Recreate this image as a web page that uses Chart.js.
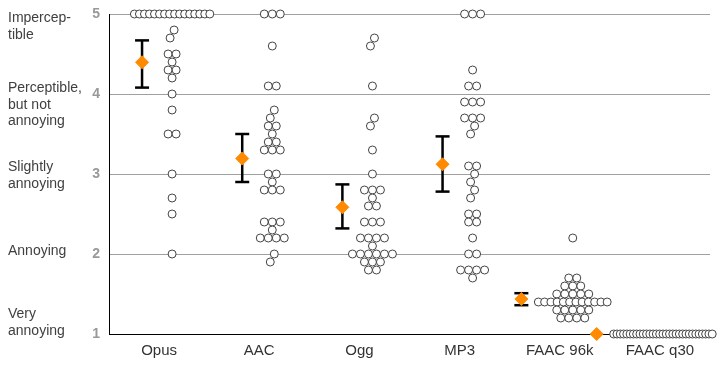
<!DOCTYPE html>
<html><head><meta charset="utf-8">
<script src="https://cdn.jsdelivr.net/npm/chart.js@4.4.1/dist/chart.umd.min.js"></script>
<style>html,body{margin:0;padding:0;background:#fff;}canvas{display:block}</style>
</head><body>
<canvas id="c" width="720" height="370"></canvas>
<script>
// ---------- data ----------
const categories = ["Opus", "AAC", "Ogg", "MP3", "FAAC 96k", "FAAC q30"];
const scoresOpus = [5,5,5,5,5,5,5,5,5,5,5,5,5,5,5,5,4.8,4.7,4.5,4.5,4.4,4.3,4.3,4.2,4.0,3.8,3.5,3.5,3.0,2.7,2.5,2.0];
const scoresAAC  = [5,5,5,4.6,4.1,4.1,3.8,3.7,3.6,3.6,3.5,3.4,3.4,3.3,3.3,3.3,3.0,3.0,2.9,2.8,2.8,2.8,2.4,2.4,2.4,2.3,2.2,2.2,2.2,2.2,2.0,1.9];
const scoresOgg  = [4.7,4.6,4.1,3.7,3.6,3.3,3.0,2.8,2.8,2.8,2.7,2.6,2.6,2.4,2.4,2.4,2.2,2.2,2.2,2.2,2.1,2.0,2.0,2.0,2.0,2.0,2.0,1.9,1.9,1.9,1.8,1.8];
const scoresMP3  = [5,5,5,4.3,4.1,4.1,3.9,3.9,3.9,3.7,3.7,3.7,3.6,3.5,3.1,3.1,3.0,2.9,2.8,2.7,2.5,2.5,2.4,2.4,2.2,2.0,2.0,1.8,1.8,1.8,1.8,1.7];
const scoresFaac96 = [2.2,1.7,1.7,1.6,1.6,1.6,1.5,1.5,1.5,1.5,1.5,1.4,1.4,1.4,1.4,1.4,1.4,1.4,1.4,1.4,1.4,1.4,1.4,1.3,1.3,1.3,1.3,1.3,1.2,1.2,1.2,1.2];
const scoresFaacQ30 = [1,1,1,1,1,1,1,1,1,1,1,1,1,1,1,1,1,1,1,1,1,1,1,1,1,1,1,1,1,1,1,1];
const ciLow  = [4.08, 2.90, 2.32, 2.78, 1.36, null];
const ciHigh = [4.67, 3.50, 2.87, 3.47, 1.51, null];
const yTickValues = [1, 2, 3, 4, 5];
const qualityValues = [5, 4, 3, 2, 1];
const qualityLabels = [["Impercep-", "tible"], ["Perceptible,", "but not", "annoying"], ["Slightly", "annoying"], ["Annoying"], ["Very", "annoying"]];

const allScores = [scoresOpus, scoresAAC, scoresOgg, scoresMP3, scoresFaac96, scoresFaacQ30];

// ---------- style ----------
const FONT = '"Liberation Sans", Arial, sans-serif';
const LABEL_STYLE = { x: 8, lineHeight: 16.5, shift: [8, -2, -3, 1, -16], color: '#404040', size: 14 };
const SWARM_OFFSET = 0.13;
const MEAN_OFFSET = -0.17;

const qualityLabelPlugin = {
  id: 'qualityLabels',
  afterDraw(chart) {
    const { ctx } = chart; const y = chart.scales.y;
    ctx.save();
    ctx.font = LABEL_STYLE.size + 'px ' + FONT;
    ctx.fillStyle = LABEL_STYLE.color;
    ctx.textAlign = 'left'; ctx.textBaseline = 'alphabetic';
    qualityLabels.forEach((lines, i) => {
      const base = y.getPixelForValue(qualityValues[i]) + LABEL_STYLE.shift[i];
      lines.forEach((t, j) => ctx.fillText(t, LABEL_STYLE.x, base + j * LABEL_STYLE.lineHeight));
    });
    ctx.restore();
  }
};

const chart = new Chart(document.getElementById('c'), {
  type: 'scatter',
  data: { datasets: [
    { label: 'mean', data: [], order: 0, pointStyle: 'rectRot', pointRadius: 6.5, backgroundColor: '#ff8a00', borderColor: '#ff8a00', borderWidth: 1, clip: false },
    { label: 'ci', data: [], order: 1, showLine: true, spanGaps: false, borderColor: '#000', borderWidth: 2.5, pointStyle: 'line', pointRadius: 7, pointBorderColor: '#000', pointBorderWidth: 2.5, clip: false },
    { label: 'scores', data: [], order: 2, pointStyle: 'circle', pointRadius: 4, backgroundColor: '#fff', borderColor: '#444', borderWidth: 1, clip: false }
  ]},
  options: {
    responsive: false, animation: false, devicePixelRatio: 1, events: [],
    layout: { padding: { top: 14, right: 10, left: 0, bottom: 0 } },
    plugins: { legend: { display: false }, tooltip: { enabled: false } },
    scales: {
      x: {
        type: 'linear', min: -0.5, max: 5.5,
        afterBuildTicks: s => { s.ticks = categories.map((c, i) => ({ value: i })); },
        afterFit: s => { s.height = 36; s.paddingLeft = 0; s.paddingRight = 0; },
        grid: { display: false, drawTicks: false },
        border: { display: true, color: '#000', width: 1 },
        ticks: { padding: 8, color: '#333', font: { family: FONT, size: 15 }, callback: v => categories[v] ?? '', maxRotation: 0, autoSkip: false }
      },
      y: {
        type: 'linear', min: 1, max: 5,
        afterBuildTicks: s => { s.ticks = yTickValues.map(v => ({ value: v })); },
        afterFit: s => { s.width = 109; s.paddingTop = 0; s.paddingBottom = 0; },
        grid: { color: '#a0a0a0', lineWidth: 1, drawTicks: false },
        border: { display: true, color: '#000', width: 1 },
        ticks: { padding: 9, color: '#999', font: { family: FONT, size: 14, weight: 'bold' } }
      }
    }
  },
  plugins: [qualityLabelPlugin]
});

// ---------- swarm layout computed from the data via the chart's scales ----------
function buildMarks() {
  const xs = chart.scales.x;
  const maxPx = chart.width - 4.5;
  const spacing = n => n < 2 ? 0 : Math.min(8, (49 + 1.65 * n) / (n - 1));
  const swarm = [], means = [], ci = [];
  allScores.forEach((scores, i) => {
    const rows = new Map();
    scores.forEach(v => { const k = Math.round(v * 10); rows.set(k, (rows.get(k) || 0) + 1); });
    const keys = [...rows.keys()].sort((a, b) => b - a);
    let halfMax = 0;
    keys.forEach(k => { const n = rows.get(k); halfMax = Math.max(halfMax, spacing(n) * (n - 1) / 2); });
    const centerPx = Math.min(xs.getPixelForValue(i + SWARM_OFFSET), maxPx - halfMax);
    let sign = 1; const shift = {};
    keys.forEach(k => {
      const n = rows.get(k), up = rows.get(k + 1), down = rows.get(k - 1);
      if (n === 1 && (up === 1 || down === 1)) { sign = (up === 1) ? -sign : 1; shift[k] = 2 * sign; }
      else shift[k] = 0;
    });
    const rowLeft = {};
    keys.forEach(k => {
      const n = rows.get(k), s = spacing(n);
      for (let j = 0; j < n; j++) {
        const px = centerPx + shift[k] + (j - (n - 1) / 2) * s;
        if (j === 0) rowLeft[k] = px;
        swarm.push({ x: xs.getValueForPixel(px), y: k / 10 });
      }
    });
    const m = scores.reduce((a, b) => a + b, 0) / scores.length;
    const lo = ciLow[i] ?? m, hi = ciHigh[i] ?? m;
    let left = Infinity;
    keys.forEach(k => { if (k / 10 >= lo - 0.051 && k / 10 <= hi + 0.051) left = Math.min(left, rowLeft[k]); });
    const mPx = Math.min(xs.getPixelForValue(i + MEAN_OFFSET), left - 17);
    const mx = xs.getValueForPixel(mPx);
    means.push({ x: mx, y: m });
    if (ciLow[i] != null) { ci.push({ x: mx, y: ciLow[i] }, { x: mx, y: ciHigh[i] }, { x: mx, y: null }); }
  });
  chart.data.datasets[0].data = means;
  chart.data.datasets[1].data = ci;
  chart.data.datasets[2].data = swarm;
  chart.update('none');
}
buildMarks();
</script>
</body></html>
